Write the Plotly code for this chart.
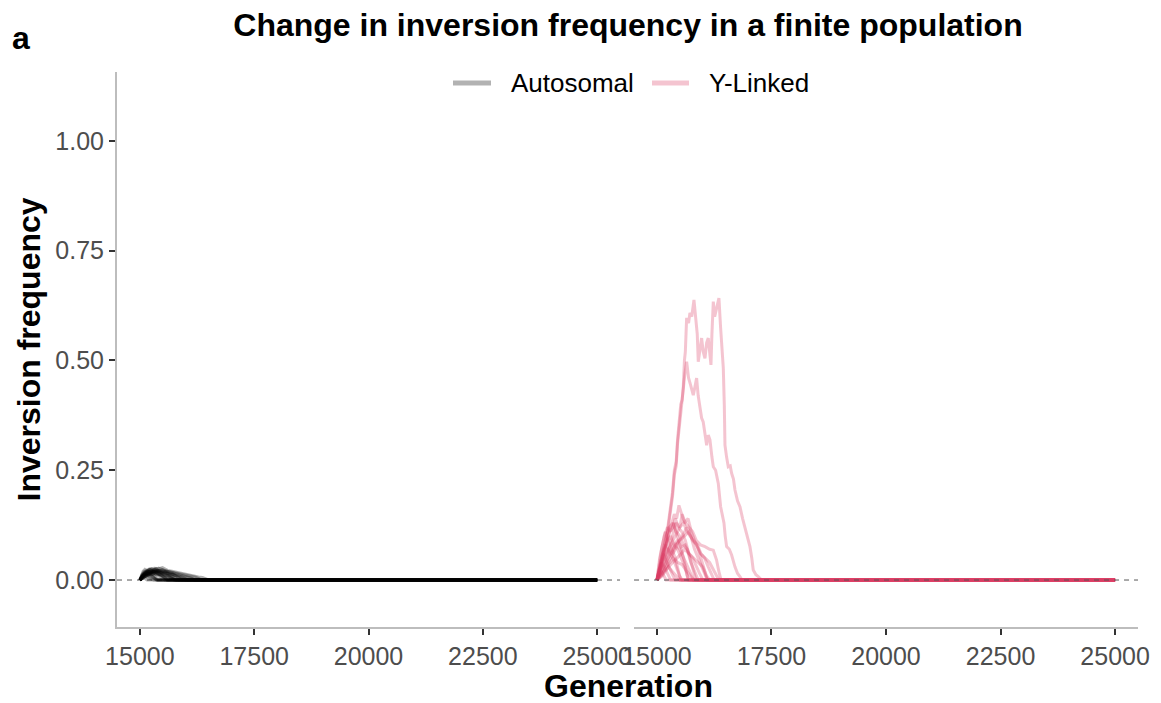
import plotly.graph_objects as go

# ---------------- data ----------------
x_ticks = [15000, 17500, 20000, 22500, 25000]
y_ticks = [0.0, 0.25, 0.5, 0.75, 1.0]
y_tick_labels = ["0.00", "0.25", "0.50", "0.75", "1.00"]

series_names = ["Autosomal", "Y-Linked"]

# Autosomal replicate trajectories (generation, inversion frequency)
auto_gens = [
    [15000, 15050, 15100, 15180, 15250, 15320, 15400, 15495, 15560, 15604, 15700, 15823, 15900, 15967, 16080, 16185, 16280, 16369, 16450, 16513, 25000],
    [15000, 15060, 15120, 15203, 15280, 15350, 15420, 15500, 15580, 15650, 15720, 15800, 15850, 25000],
    [15000, 15050, 15100, 15160, 15230, 15300, 15370, 15440, 15500, 15550, 25000],
    [15000, 15080, 15150, 15220, 15300, 15380, 15460, 15540, 15620, 15700, 15780, 15860, 15950, 16000, 25000],
    [15000, 15040, 15090, 15140, 15200, 15250, 15300, 25000],
    [15000, 15060, 15130, 15200, 15270, 15340, 15410, 15480, 15560, 15640, 15720, 15780, 25000],
    [15000, 15100, 15200, 15300, 15400, 15500, 15600, 15700, 15800, 15900, 16000, 16100, 16200, 16280, 16350, 25000],
    [15000, 15050, 15100, 15150, 15200, 15260, 15320, 15380, 25000],
    [15000, 15070, 15140, 15210, 15280, 15350, 15420, 15480, 15550, 15600, 25000],
    [15000, 15060, 15130, 15200, 15280, 15360, 15440, 15520, 15600, 15680, 15750, 15800, 25000],
    [15000, 15050, 15110, 15170, 15240, 15300, 15360, 25000],
    [15000, 15080, 15160, 15240, 15320, 15400, 15480, 15560, 15640, 15720, 15800, 15880, 15960, 16050, 25000],
    [15000, 15040, 15080, 15120, 15160, 25000],
    [15000, 15060, 15130, 15200, 15270, 15340, 15410, 15480, 15550, 15620, 25000],
    [15000, 15100, 15200, 15300, 15400, 15500, 15600, 15700, 15800, 15900, 16000, 16100, 16200, 25000],
    [15000, 15050, 15120, 15190, 15260, 15330, 15400, 15470, 15540, 15620, 15700, 15760, 25000],
    [15000, 15030, 15070, 15110, 15160, 15220, 15290, 15350, 15400, 25000],
    [15000, 15090, 15170, 15250, 15330, 15410, 15480, 15560, 15640, 15720, 15800, 15870, 15920, 25000],
    [15000, 15040, 15090, 15150, 15210, 15270, 15340, 15410, 15480, 15540, 15590, 25000],
    [15000, 15070, 15140, 15210, 15280, 15350, 15420, 15490, 15560, 15640, 15700, 15740, 25000],
    [15000, 15100, 15200, 15300, 15400, 15500, 15600, 15700, 15800, 15900, 16000, 16100, 16150, 16200, 25000],
    [15000, 15030, 15070, 15120, 15180, 15240, 15300, 15350, 15380, 25000],
]
auto_freqs = [
    [0, 0.012, 0.018, 0.022, 0.026, 0.027, 0.025, 0.028, 0.024, 0.022, 0.020, 0.017, 0.015, 0.013, 0.011, 0.009, 0.007, 0.006, 0.003, 0, 0],
    [0, 0.010, 0.016, 0.024, 0.022, 0.026, 0.020, 0.018, 0.015, 0.012, 0.008, 0.004, 0, 0],
    [0, 0.008, 0.015, 0.020, 0.018, 0.016, 0.012, 0.008, 0.004, 0, 0],
    [0, 0.006, 0.012, 0.016, 0.020, 0.022, 0.018, 0.019, 0.015, 0.012, 0.010, 0.006, 0.003, 0, 0],
    [0, 0.006, 0.010, 0.008, 0.005, 0.002, 0, 0],
    [0, 0.008, 0.013, 0.017, 0.020, 0.018, 0.021, 0.017, 0.013, 0.010, 0.006, 0, 0],
    [0, 0.010, 0.014, 0.018, 0.020, 0.023, 0.020, 0.018, 0.016, 0.014, 0.012, 0.010, 0.007, 0.004, 0, 0],
    [0, 0.004, 0.007, 0.010, 0.008, 0.006, 0.003, 0, 0],
    [0, 0.010, 0.014, 0.019, 0.021, 0.019, 0.015, 0.011, 0.006, 0, 0],
    [0, 0.005, 0.009, 0.012, 0.014, 0.012, 0.013, 0.010, 0.008, 0.005, 0.002, 0, 0],
    [0, 0.009, 0.014, 0.012, 0.010, 0.006, 0, 0],
    [0, 0.012, 0.018, 0.021, 0.024, 0.020, 0.022, 0.018, 0.014, 0.013, 0.011, 0.008, 0.005, 0, 0],
    [0, 0.004, 0.006, 0.003, 0, 0],
    [0, 0.007, 0.011, 0.015, 0.013, 0.016, 0.012, 0.009, 0.005, 0, 0],
    [0, 0.008, 0.012, 0.015, 0.017, 0.016, 0.015, 0.013, 0.010, 0.008, 0.006, 0.004, 0, 0],
    [0, 0.010, 0.017, 0.021, 0.019, 0.023, 0.019, 0.016, 0.012, 0.009, 0.005, 0, 0],
    [0, 0.010, 0.020, 0.024, 0.020, 0.017, 0.012, 0.006, 0, 0],
    [0, 0.013, 0.019, 0.025, 0.022, 0.027, 0.024, 0.020, 0.017, 0.014, 0.009, 0.004, 0, 0],
    [0, 0.011, 0.019, 0.022, 0.025, 0.021, 0.018, 0.014, 0.010, 0.005, 0, 0],
    [0, 0.009, 0.016, 0.014, 0.019, 0.017, 0.013, 0.014, 0.011, 0.007, 0.003, 0, 0],
    [0, 0.011, 0.016, 0.019, 0.021, 0.019, 0.020, 0.017, 0.014, 0.012, 0.009, 0.006, 0.003, 0, 0],
    [0, 0.008, 0.014, 0.018, 0.015, 0.011, 0.007, 0.003, 0, 0],
]

# Y-linked replicate trajectories (generation, inversion frequency)
ylink_gens = [
    [15000, 15060, 15100, 15150, 15200, 15250, 15300, 15340, 15380, 15420, 15450, 15490, 15520, 15550, 15575, 15600, 15620, 15648, 15690, 15720, 15760, 15808, 15851, 15880, 15902, 15940, 15975, 16010, 16048, 16085, 16120, 16150, 16179, 16200, 16230, 16260, 16288, 16320, 16353, 16390, 16420, 16448, 16470, 16485, 16520, 16557, 16600, 16630, 16670, 16703, 16760, 16812, 16870, 16921, 16980, 17030, 17070, 17102, 17160, 17212, 17285, 25000],
    [15000, 15050, 15100, 15150, 15200, 15250, 15300, 15340, 15380, 15420, 15450, 15490, 15520, 15550, 15580, 15610, 15648, 15690, 15735, 15793, 15830, 15866, 15900, 15925, 15975, 16010, 16048, 16085, 16120, 16157, 16200, 16230, 16280, 16339, 16390, 16420, 16463, 16490, 16521, 16580, 16630, 16703, 16760, 16812, 16856, 25000],
    [15000, 15080, 15150, 15220, 15300, 15380, 15430, 15480, 15540, 15600, 15680, 15750, 15820, 15900, 15960, 16020, 16070, 16100, 25000],
    [15000, 15100, 15200, 15280, 15350, 15420, 15500, 15550, 15620, 15700, 15780, 15860, 15950, 16050, 16150, 16230, 16300, 16350, 16400, 25000],
    [15000, 15060, 15130, 15200, 15270, 15350, 15420, 15500, 15580, 15660, 15740, 15820, 15900, 25000],
    [15000, 15100, 15200, 15300, 15400, 15480, 15560, 15650, 15720, 15800, 15880, 15960, 16040, 16120, 16200, 16250, 25000],
    [15000, 15080, 15160, 15230, 15300, 15370, 15450, 15530, 15610, 15660, 15700, 25000],
    [15000, 15100, 15200, 15280, 15360, 15450, 15530, 15620, 15700, 15780, 15860, 15930, 16000, 25000],
    [15000, 15060, 15120, 15200, 15280, 15350, 15420, 15490, 15550, 25000],
    [15000, 15120, 15250, 15350, 15450, 15530, 15600, 15700, 15800, 15900, 16000, 16080, 16150, 25000],
    [15000, 15050, 15100, 15150, 15220, 15300, 15350, 15400, 25000],
    [15000, 15100, 15200, 15280, 15350, 15450, 15550, 15650, 15730, 15800, 25000],
    [15000, 15040, 15100, 15160, 15230, 15300, 25000],
    [15000, 15100, 15200, 15300, 15400, 15500, 15600, 15700, 15780, 15860, 15950, 16050, 16150, 16250, 16350, 25000],
    [15000, 15080, 15160, 15250, 15330, 15420, 15500, 25000],
    [15000, 15060, 15120, 15200, 15280, 15350, 15400, 15470, 15540, 15620, 15700, 15780, 15850, 25000],
    [15000, 15050, 15100, 15150, 15200, 25000],
    [15000, 15050, 15100, 15160, 15230, 15300, 15370, 15440, 15510, 15580, 15640, 15680, 25000],
    [15000, 15080, 15160, 15250, 15330, 15420, 15500, 15590, 15680, 15760, 15800, 25000],
    [15000, 15060, 15120, 15180, 15250, 15320, 15400, 15470, 15520, 25000],
    [15000, 15100, 15200, 15300, 15400, 15500, 15580, 15660, 15740, 15820, 15900, 15980, 16050, 16100, 25000],
]
ylink_freqs = [
    [0, 0.02, 0.03, 0.07, 0.09, 0.13, 0.17, 0.20, 0.25, 0.27, 0.32, 0.36, 0.40, 0.41, 0.44, 0.50, 0.52, 0.597, 0.585, 0.608, 0.60, 0.638, 0.597, 0.56, 0.497, 0.53, 0.551, 0.52, 0.505, 0.54, 0.551, 0.52, 0.49, 0.56, 0.634, 0.60, 0.611, 0.63, 0.642, 0.574, 0.53, 0.483, 0.40, 0.307, 0.28, 0.258, 0.26, 0.243, 0.23, 0.205, 0.18, 0.167, 0.14, 0.121, 0.10, 0.076, 0.05, 0.023, 0.012, 0.008, 0, 0],
    [0, 0.02, 0.035, 0.06, 0.085, 0.12, 0.16, 0.19, 0.24, 0.26, 0.31, 0.35, 0.39, 0.42, 0.45, 0.47, 0.497, 0.46, 0.444, 0.421, 0.44, 0.46, 0.42, 0.399, 0.369, 0.36, 0.338, 0.307, 0.33, 0.319, 0.28, 0.258, 0.25, 0.22, 0.167, 0.15, 0.13, 0.10, 0.076, 0.07, 0.057, 0.03, 0.015, 0.008, 0, 0],
    [0, 0.03, 0.06, 0.09, 0.12, 0.15, 0.14, 0.17, 0.15, 0.13, 0.14, 0.11, 0.09, 0.07, 0.05, 0.03, 0.01, 0, 0],
    [0, 0.02, 0.05, 0.08, 0.10, 0.13, 0.12, 0.15, 0.13, 0.12, 0.11, 0.09, 0.08, 0.076, 0.07, 0.068, 0.046, 0.02, 0, 0],
    [0, 0.03, 0.07, 0.10, 0.12, 0.13, 0.11, 0.10, 0.08, 0.07, 0.04, 0.02, 0, 0],
    [0, 0.01, 0.03, 0.05, 0.07, 0.09, 0.10, 0.12, 0.10, 0.09, 0.08, 0.06, 0.05, 0.03, 0.01, 0, 0],
    [0, 0.04, 0.07, 0.09, 0.10, 0.08, 0.07, 0.05, 0.03, 0.01, 0, 0],
    [0, 0.02, 0.04, 0.06, 0.08, 0.09, 0.075, 0.08, 0.06, 0.05, 0.03, 0.015, 0, 0],
    [0, 0.03, 0.06, 0.08, 0.06, 0.05, 0.03, 0.01, 0, 0],
    [0, 0.01, 0.03, 0.04, 0.05, 0.06, 0.07, 0.06, 0.05, 0.04, 0.03, 0.01, 0, 0],
    [0, 0.02, 0.045, 0.06, 0.04, 0.02, 0.01, 0, 0],
    [0, 0.015, 0.03, 0.04, 0.05, 0.04, 0.035, 0.02, 0.01, 0, 0],
    [0, 0.02, 0.04, 0.03, 0.015, 0, 0],
    [0, 0.02, 0.04, 0.06, 0.08, 0.09, 0.10, 0.11, 0.09, 0.08, 0.06, 0.05, 0.04, 0.02, 0, 0],
    [0, 0.01, 0.02, 0.03, 0.02, 0.01, 0, 0],
    [0, 0.02, 0.05, 0.08, 0.11, 0.12, 0.14, 0.12, 0.11, 0.09, 0.06, 0.03, 0, 0],
    [0, 0.01, 0.02, 0.01, 0, 0],
    [0, 0.04, 0.07, 0.10, 0.12, 0.11, 0.13, 0.10, 0.08, 0.05, 0.02, 0, 0],
    [0, 0.03, 0.05, 0.07, 0.06, 0.08, 0.07, 0.05, 0.03, 0.01, 0, 0],
    [0, 0.05, 0.08, 0.11, 0.09, 0.07, 0.05, 0.02, 0, 0],
    [0, 0.03, 0.06, 0.08, 0.10, 0.12, 0.13, 0.11, 0.10, 0.07, 0.05, 0.03, 0.01, 0, 0],
]

# ---------------- styling ----------------
AUTO_COL = "rgba(0,0,0,0.3)"
YLINK_COL = "rgba(220,60,100,0.3)"
FONT = "Liberation Sans, Arial, Helvetica, sans-serif"
AXIS_LINE = "#bdbdbd"
TICK_COL = "#333333"
TICKLAB_COL = "#4d4d4d"

# pixel helpers for the plot area (margins l=117, r=23, t=72, b=76)
PLOT_L, PLOT_W, PLOT_B, PLOT_H = 117, 1021, 627, 555


def px_x(px):
    return (px - PLOT_L) / PLOT_W


def px_y(py):
    return (PLOT_B - py) / PLOT_H


fig = go.Figure()

# dashed zero line under the autosomal panel (hidden by the black lines)
fig.add_shape(type="line", xref="x domain", yref="y", x0=0, x1=1, y0=0, y1=0,
              line=dict(color="#555555", width=1, dash="5px,5px"), layer="below")

for g, f in zip(auto_gens, auto_freqs):
    fig.add_trace(go.Scatter(x=g, y=f, mode="lines", xaxis="x", yaxis="y",
                             line=dict(color=AUTO_COL, width=3),
                             showlegend=False, hoverinfo="skip"))
for g, f in zip(ylink_gens, ylink_freqs):
    fig.add_trace(go.Scatter(x=g, y=f, mode="lines", xaxis="x2", yaxis="y2",
                             line=dict(color=YLINK_COL, width=3),
                             showlegend=False, hoverinfo="skip"))

# dashed zero line over the Y-linked panel
fig.add_shape(type="line", xref="x2 domain", yref="y2", x0=0, x1=1, y0=0, y1=0,
              line=dict(color="#555555", width=1, dash="5px,5px"), layer="above")

xaxis_common = dict(range=[14500, 25500], tickvals=x_ticks, ticktext=[str(v) for v in x_ticks],
                    showgrid=False, zeroline=False, showline=True, linecolor=AXIS_LINE, linewidth=2,
                    ticks="outside", ticklen=6, tickwidth=2, tickcolor=TICK_COL,
                    tickfont=dict(family=FONT, size=25, color=TICKLAB_COL))
yrange = [-0.107, 1.157]

fig.update_layout(
    width=1161, height=703,
    paper_bgcolor="white", plot_bgcolor="white",
    margin=dict(l=117, r=23, t=72, b=76),
    xaxis=dict(domain=[0, 0.4927], anchor="y", **xaxis_common),
    xaxis2=dict(domain=[0.5064, 1], anchor="y2", **xaxis_common),
    yaxis=dict(domain=[0, 1], range=yrange, tickvals=y_ticks, ticktext=y_tick_labels,
               showgrid=False, zeroline=False, showline=True, linecolor=AXIS_LINE, linewidth=2,
               ticks="outside", ticklen=6, tickwidth=2, tickcolor=TICK_COL,
               tickfont=dict(family=FONT, size=25, color=TICKLAB_COL), anchor="x"),
    yaxis2=dict(domain=[0, 1], range=yrange, matches="y", visible=False, anchor="x2"),
    showlegend=False,
    title=dict(text="<b>Change in inversion frequency in a finite population</b>",
               x=628 / 1161, xanchor="center", xref="container",
               y=1 - 25 / 703, yanchor="middle", yref="container",
               font=dict(family=FONT, size=32, color="black")),
)

# manual legend (key lines + labels)
legend_cols = [AUTO_COL, YLINK_COL]
legend_key_px = [(453, 491), (652, 689)]
legend_text_px = [509, 707]
for name, col, (k0, k1), tx in zip(series_names, legend_cols, legend_key_px, legend_text_px):
    fig.add_shape(type="line", xref="paper", yref="paper", x0=px_x(k0), x1=px_x(k1),
                  y0=px_y(83), y1=px_y(83), line=dict(color=col, width=5))
    fig.add_annotation(text=name, xref="paper", yref="paper", x=px_x(tx), y=px_y(83),
                       xanchor="left", yanchor="middle", showarrow=False,
                       font=dict(family=FONT, size=26, color="black"))

fig.add_annotation(text="<b>a</b>", xref="paper", yref="paper",
                   x=px_x(10), y=px_y(38), xanchor="left", yanchor="middle",
                   showarrow=False, font=dict(family=FONT, size=32, color="black"))
fig.add_annotation(text="<b>Inversion frequency</b>", xref="paper", yref="paper",
                   x=px_x(28), y=0.5, xanchor="center", yanchor="middle", textangle=-90,
                   showarrow=False, font=dict(family=FONT, size=32, color="black"))
fig.add_annotation(text="<b>Generation</b>", xref="paper", yref="paper",
                   x=px_x(628), y=px_y(686), xanchor="center", yanchor="middle",
                   showarrow=False, font=dict(family=FONT, size=32, color="black"))

fig.write_html("out.html")
